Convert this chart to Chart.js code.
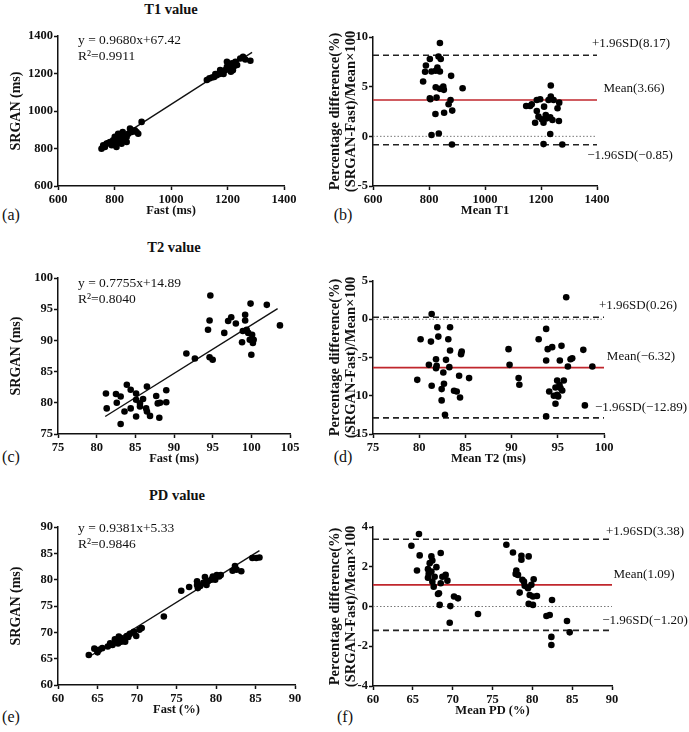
<!DOCTYPE html>
<html><head><meta charset="utf-8">
<script src="https://cdn.jsdelivr.net/npm/chart.js@4.4.0/dist/chart.umd.min.js"></script>
<style>
html,body{margin:0;padding:0;background:#fff;width:689px;height:732px;overflow:hidden;}
body{position:relative;font-family:"Liberation Serif","Times New Roman",serif;color:#111;}
canvas{position:absolute;}
.title{position:absolute;font-weight:bold;font-size:14.5px;transform:translate(-50%,-50%);white-space:nowrap;}
.letter{position:absolute;font-size:16px;transform:translate(-50%,-50%);white-space:nowrap;}
</style></head><body>
<div class="title" style="left:171px;top:9px">T1 value</div>
<div class="title" style="left:174px;top:247px">T2 value</div>
<div class="title" style="left:177px;top:495px">PD value</div>
<div class="letter" style="left:11px;top:215px">(a)</div>
<div class="letter" style="left:343px;top:215px">(b)</div>
<div class="letter" style="left:11px;top:457px">(c)</div>
<div class="letter" style="left:343px;top:457px">(d)</div>
<div class="letter" style="left:11px;top:717px">(e)</div>
<div class="letter" style="left:345px;top:717px">(f)</div>
<script>
// ---------- DATA ----------
// (a) T1 correlation
const t1Fast = [754,760,772,784,790,795,801,807,810,813,819,825,831,837,843,849,855,861,872,878,884,896,798,817,829,778,766,843,
  1127,1136,1145,1153,1162,1172,1180,1186,1192,1198,1204,1210,1216,1222,1212,1228,1234,1245,1255,1281,1263,1198,1174,1157,1219];
const t1Srgan = [799,817,826,835,817,844,862,808,835,879,853,826,870,844,862,879,906,888,897,888,879,942,826,858,888,829,808,835,
  1165,1174,1179,1182,1191,1197,1209,1197,1218,1263,1245,1227,1254,1236,1209,1263,1245,1280,1289,1268,1275,1236,1218,1197,1218];
const t1FitX = [755, 1287];
const t1FitY = [798, 1313];
const t1Eq = ['y = 0.9680x+67.42', 'R\u00B2=0.9911'];
// (b) T1 Bland-Altman
const t1Mean = [839,789,803,834,842,786,809,824,830,839,779,879,824,839,851,853,920,803,827,877,870,823,854,883,809,835,882,805,
  1235,1147,1167,1185,1197,1211,1227,1235,1265,1259,1185,1217,1221,1233,1241,1264,1179,1209,1203,1233,1209,1276,1161,1245,1191];
const t1Pct = [9.39,7.13,7.78,8.04,7.78,6.5,6.53,6.6,6.93,6.53,5.52,6.09,4.94,4.78,5.0,4.68,4.84,3.83,3.9,3.66,3.23,2.25,2.38,2.59,0.13,0.29,-0.82,3.73,
  5.11,3.06,3.23,3.66,3.73,2.99,3.66,4.0,3.39,2.82,2.55,2.15,1.81,1.91,1.64,1.54,1.37,1.37,1.71,0.23,-0.78,-0.82,3.06,3.66,1.98];
const t1Limits = [8.17, 3.66, -0.85];
const t1Ticks = [600,800,1000,1200,1400];
const t1PctTicks = [-5,0,5,10];

// (c) T2 correlation
const t2Fast = [94.7,99.9,102.0,94.6,94.4,97.0,97.4,98.0,99.2,99.2,96.5,103.7,98.9,99.4,99.6,100.1,99.8,98.8,100.2,100.0,100.3,91.6,92.7,94.6,95.0,
  81.2,82.5,83.1,83.9,84.4,85.1,86.5,89.0,87.7,81.3,82.6,84.4,85.1,85.6,86.0,86.4,86.5,87.9,88.2,89.0,83.6,85.1,86.9,88.1,83.1,85.6];
const t2Srgan = [97.2,95.9,95.7,93.2,91.7,93.1,93.7,92.7,94.1,93.2,91.2,92.4,91.5,91.7,91.2,90.9,90.1,89.7,89.6,87.7,90.1,87.9,87.1,87.3,86.9,
  81.5,81.4,81.0,82.9,82.1,81.5,82.6,82.0,81.1,79.1,80.0,79.1,80.5,79.9,80.6,79.1,78.6,79.9,80.0,80.1,78.6,77.8,77.9,77.6,76.6,79.4];
const t2FitX = [81.1, 103.4];
const t2FitY = [77.8, 95.1];
const t2Eq = ['y = 0.7755x+14.89', 'R\u00B2=0.8040'];
const t2Ticks = [75,80,85,90,95,100,105];
const t2YTicks = [75,80,85,90,95,100];
// (d) T2 Bland-Altman
const t2Mean = [81.35,81.96,83.34,80.15,81.27,82.07,83.15,83.34,84.6,84.53,81.82,82.9,81.05,81.89,83.26,81.82,82.61,79.79,81.35,82.68,84.32,85.4,82.43,83.77,84.06,84.42,82.43,82.79,
  89.67,89.78,90.76,90.84,92.93,93.74,95.91,93.74,93.91,94.39,95.4,95.22,96.09,96.38,96.56,97.76,98.74,94.93,95.65,95.18,94.75,95.29,95.48,94.07,94.93,94.57,95.04,94.75,93.74,97.93];
const t2Pct = [0.69,-1.04,-1.04,-2.61,-2.92,-2.27,-2.61,-4.09,-4.22,-4.56,-5.22,-5.31,-5.96,-6.09,-6.26,-6.39,-6.96,-7.92,-8.7,-8.44,-7.39,-7.69,-9.13,-9.35,-9.44,-10.22,-10.61,-12.48,
  -3.91,-5.96,-7.69,-8.57,-2.61,-1.26,2.87,-5.4,-3.91,-3.65,-3.48,-5.4,-6.18,-5.22,-5.09,-4.0,-6.18,-8.0,-8.0,-8.57,-8.92,-9.0,-9.31,-9.44,-9.87,-10.0,-10.09,-11.05,-12.7,-11.26];
const t2Limits = [0.26, -6.32, -12.89];
const t2MeanTicks = [75,80,85,90,95,100];
const t2PctTicks = [-15,-10,-5,0,5];

// (e) PD correlation
const pdFast = [63.9,64.6,65.0,65.2,66.3,66.6,66.9,67.2,67.5,67.7,68.0,68.2,68.5,68.7,69.1,69.6,69.9,70.3,70.6,67.2,67.9,73.4,75.6,76.6,77.6,77.6,78.0,78.4,78.6,79.0,79.4,79.6,79.9,80.1,80.4,80.6,82.1,82.4,82.6,83.2,84.6,85.1,85.5,77.7,78.8,65.6,67.6,68.9];
const pdSrgan = [65.7,66.9,66.2,66.7,67.3,67.9,67.6,68.1,68.6,69.2,68.2,68.7,68.2,69.3,69.7,70.1,69.3,70.5,70.8,68.7,68.9,73.0,77.9,78.6,79.0,79.7,78.8,79.4,80.5,79.7,80.0,80.6,80.0,80.9,80.6,80.9,81.7,82.6,81.9,81.6,84.1,84.1,84.2,78.4,79.0,67.0,67.9,69.1];
const pdFitX = [64.3, 85.5];
const pdFitY = [65.7, 85.5];
const pdEq = ['y = 0.9381x+5.33', 'R\u00B2=0.9846'];
const pdTicks = [60,65,70,75,80,85,90];
// (f) PD Bland-Altman
const pdMean = [65.77,64.82,65.86,65.52,68.5,67.33,67.45,67.12,67.96,66.9,66.99,67.33,66.9,67.74,68.71,69.12,69.34,67.45,67.62,68.5,68.28,68.16,70.17,70.67,68.37,69.71,69.63,73.18,
  76.74,77.57,78.63,78.63,79.54,77.99,78.2,77.91,78.75,78.95,79.04,79.46,79.88,80.17,78.41,79.67,80.08,80.58,79.54,80.08,82.47,81.77,82.18,84.35,84.69,82.39,82.39];
const pdPct = [3.65,3.06,2.57,1.81,2.69,2.52,2.31,2.18,1.98,1.88,1.64,1.76,1.45,1.5,1.5,1.59,1.3,1.25,1.0,1.17,0.67,0.63,0.5,0.41,0.08,0.02,-0.82,-0.38,
  3.11,2.72,2.55,2.35,2.52,1.81,1.59,1.64,1.34,1.25,1.04,0.92,1.09,1.37,0.7,0.58,0.5,0.53,0.13,0.08,0.33,-0.48,-0.43,-0.73,-1.3,-1.53,-1.94];
const pdLimits = [3.38, 1.09, -1.20];
const pdPctTicks = [-4,-2,0,2,4];

// ---------- RENDERING ----------
const SERIF = '"Liberation Serif","Times New Roman",serif';
Chart.defaults.font.family = SERIF;
Chart.defaults.color = '#111';

const fmt = v => (v < 0 ? '\u2212' : '') + Math.abs(v).toFixed(2);

const textPlugin = {
  id: 'panelText',
  afterDatasetsDraw(chart, args, o) {
    const ctx = chart.ctx, ca = chart.chartArea;
    ctx.save();
    ctx.fillStyle = '#111';
    ctx.textBaseline = 'middle';
    if (o.eq) {
      ctx.font = '13.5px ' + SERIF;
      ctx.textAlign = 'left';
      o.eq.forEach((s, i) => ctx.fillText(s, ca.left + 20, ca.top + o.eqDy + i * 16));
    }
    if (o.limits) {
      ctx.font = '13px ' + SERIF;
      ctx.textAlign = 'center';
      const ys = chart.scales.y;
      const texts = ['+1.96SD(' + fmt(o.limits[0]) + ')', 'Mean(' + fmt(o.limits[1]) + ')', '\u22121.96SD(' + fmt(o.limits[2]) + ')'];
      texts.forEach((s, i) => ctx.fillText(s, ca.right + o.labDx[i], ys.getPixelForValue(o.limits[i]) + o.labDy[i]));
    }
    ctx.restore();
  }
};

function axis(min, max, ticks, title, isY, opts) {
  return {
    type: 'linear', min, max,
    afterBuildTicks: s => { s.ticks = ticks.map(v => ({ value: v })); },
    afterFit: s => { if (isY) s.width = opts.yw; else s.height = opts.xh; },
    ticks: { font: { size: 12.5, weight: 'bold' }, color: '#111', padding: isY ? 1 : 2, callback: v => String(v) },
    grid: { display: true, drawOnChartArea: false, drawTicks: true, tickLength: 4, tickWidth: 1.5, tickColor: '#111' },
    border: { display: true, color: '#111', width: 1.5 },
    title: isY ? {
      display: true, text: title,
      font: { size: opts.ytSize, weight: 'bold', lineHeight: opts.ytLH },
      color: '#111', padding: { top: opts.ytPad, bottom: 0 }
    } : {
      display: true, text: title,
      font: { size: 12.5, weight: 'bold', lineHeight: 1.2 },
      color: '#111', padding: { top: 0, bottom: opts.xh - 25 - 7.5 }
    }
  };
}

function hline(v, xmin, xmax, color, dash, width) {
  return { type: 'line', data: [{ x: xmin, y: v }, { x: xmax, y: v }], borderColor: color, borderDash: dash,
           borderWidth: width, pointRadius: 0, fill: false, tension: 0 };
}

function panel(cfg) {
  const [l, t, r, b] = cfg.area;
  const cl = l - cfg.yw, ct = t - cfg.padTop;
  const cw = r + cfg.padRight - cl, ch = b + cfg.xh - ct;
  const cv = document.createElement('canvas');
  cv.width = cw; cv.height = ch;
  cv.style.left = cl + 'px'; cv.style.top = ct + 'px';
  cv.style.width = cw + 'px'; cv.style.height = ch + 'px';
  document.body.appendChild(cv);
  const pts = cfg.xs.map((x, i) => ({ x, y: cfg.ys[i] }));
  const datasets = [{ type: 'scatter', data: pts, pointRadius: 3.3, pointHoverRadius: 3.3, backgroundColor: '#000', borderWidth: 0 }];
  if (cfg.fitX) {
    datasets.push({ type: 'line', data: cfg.fitX.map((x, i) => ({ x, y: cfg.fitY[i] })), borderColor: '#111', borderWidth: 1.4, pointRadius: 0, fill: false });
  }
  if (cfg.limits) {
    datasets.push(hline(cfg.limits[1], cfg.xr[0], cfg.xr[1], '#c0262c', [], 1.6));
    datasets.push(hline(cfg.limits[0], cfg.xr[0], cfg.xr[1], '#222', [6, 4], 1.6));
    datasets.push(hline(cfg.limits[2], cfg.xr[0], cfg.xr[1], '#222', [6, 4], 1.6));
    datasets.push(hline(0, cfg.xr[0], cfg.xr[1], '#777', [1.5, 2], 1));
  }
  const opts = { yw: cfg.yw, xh: cfg.xh, ytSize: cfg.ytSize, ytLH: cfg.ytLH, ytPad: cfg.ytPad };
  new Chart(cv, {
    type: 'scatter',
    data: { datasets },
    options: {
      responsive: false, animation: false, devicePixelRatio: 1,
      layout: { padding: { left: 0, top: cfg.padTop, right: cfg.padRight, bottom: 0 } },
      plugins: { legend: { display: false }, tooltip: { enabled: false },
        panelText: { eq: cfg.eq, eqDy: cfg.eqDy, limits: cfg.limits, labDx: cfg.labDx, labDy: cfg.labDy } },
      scales: {
        x: axis(cfg.xr[0], cfg.xr[1], cfg.xt, cfg.xTitle, false, opts),
        y: axis(cfg.yr[0], cfg.yr[1], cfg.yt, cfg.yTitle, true, opts)
      }
    },
    plugins: [textPlugin]
  });
}

const LEFT = { yw: 58, padTop: 30, padRight: 30, xh: 40, ytSize: 14, ytLH: 1.2, ytPad: 8 };
const RIGHT = { yw: 48, padTop: 30, padRight: 84, xh: 40, ytSize: 14.5, ytLH: 1.1, ytPad: 2 };
const BA_TITLE = ['Percentage difference(%)', '(SRGAN-Fast)/Mean\u00D7100'];

panel(Object.assign({}, LEFT, { area: [58, 36, 284, 186], xs: t1Fast, ys: t1Srgan, fitX: t1FitX, fitY: t1FitY,
  xr: [600, 1400], yr: [600, 1400], xt: t1Ticks, yt: t1Ticks, xTitle: 'Fast (ms)', yTitle: 'SRGAN (ms)', eq: t1Eq, eqDy: 4 }));
panel(Object.assign({}, RIGHT, { area: [373, 37, 597, 186], xs: t1Mean, ys: t1Pct, limits: t1Limits,
  xr: [600, 1400], yr: [-5, 10], xt: t1Ticks, yt: t1PctTicks, xTitle: 'Mean T1', yTitle: BA_TITLE,
  labDx: [34, 37, 33], labDy: [-12, -11, 11] }));
panel(Object.assign({}, LEFT, { area: [58, 278, 290, 434], xs: t2Fast, ys: t2Srgan, fitX: t2FitX, fitY: t2FitY,
  xr: [75, 105], yr: [75, 100], xt: t2Ticks, yt: t2YTicks, xTitle: 'Fast (ms)', yTitle: 'SRGAN (ms)', eq: t2Eq, eqDy: 5 }));
panel(Object.assign({}, RIGHT, { area: [373, 281, 604, 434], xs: t2Mean, ys: t2Pct, limits: t2Limits,
  xr: [75, 100], yr: [-15, 5], xt: t2MeanTicks, yt: t2PctTicks, xTitle: 'Mean T2 (ms)', yTitle: BA_TITLE,
  labDx: [34, 37, 37], labDy: [-12, -11, -10] }));
panel(Object.assign({}, LEFT, { area: [58, 527, 295, 685], xs: pdFast, ys: pdSrgan, fitX: pdFitX, fitY: pdFitY,
  xr: [60, 90], yr: [60, 90], xt: pdTicks, yt: pdTicks, xTitle: 'Fast (%)', yTitle: 'SRGAN (ms)', eq: pdEq, eqDy: 1 }));
panel(Object.assign({}, RIGHT, { area: [373, 527, 612, 686], xs: pdMean, ys: pdPct, limits: pdLimits,
  xr: [60, 90], yr: [-4, 4], xt: pdTicks, yt: pdPctTicks, xTitle: 'Mean PD (%)', yTitle: BA_TITLE,
  labDx: [33, 32, 33], labDy: [-8, -10, -10] }));
</script>
</body></html>
